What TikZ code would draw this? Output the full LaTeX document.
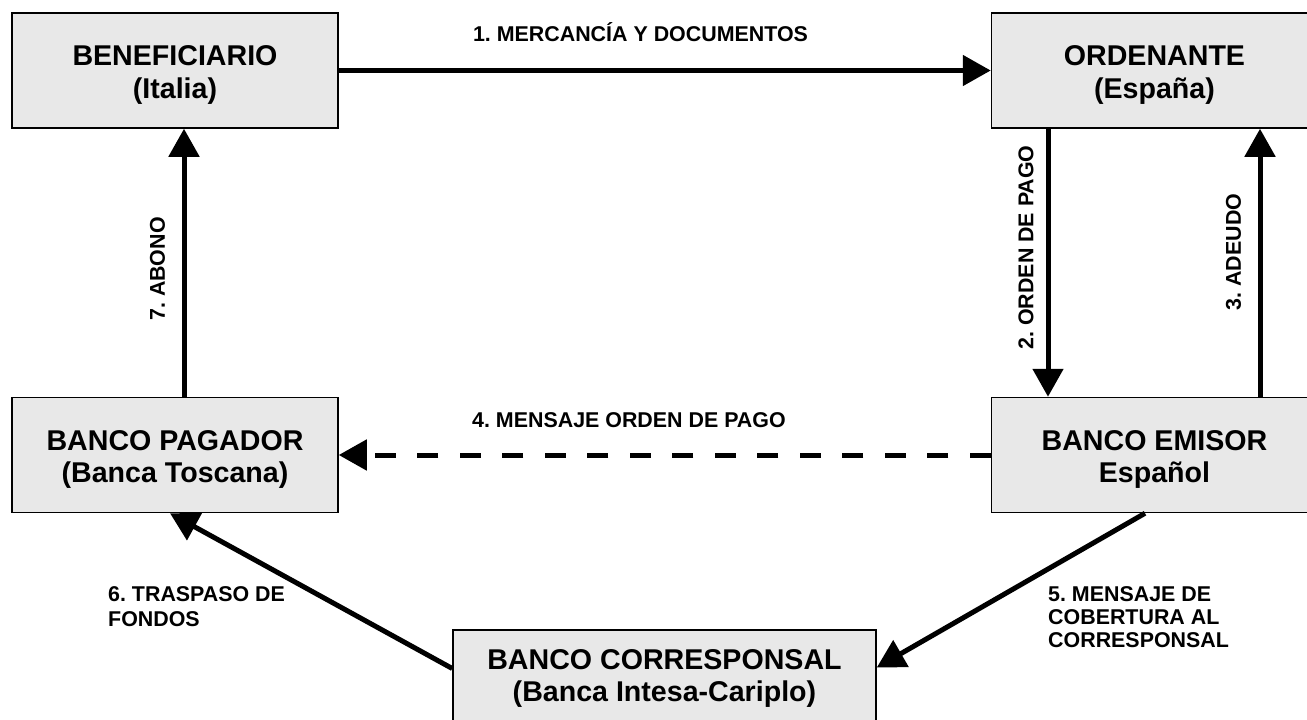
\documentclass[tikz,border=0pt]{standalone}
\usepackage{fontspec}
\setmainfont{Liberation Sans}
\usetikzlibrary{arrows.meta,calc}
\definecolor{boxgray}{RGB}{232,232,232}
\frenchspacing
\begin{document}
\begin{tikzpicture}[x=1pt,y=-1pt,
  box/.style={draw=black,line width=1.5pt,fill=boxgray,minimum width=326pt,
    minimum height=115pt,inner sep=0pt},
  boxtext/.style={inner sep=0pt,align=center,
    font=\fontsize{28.6}{32.5}\selectfont\bfseries},
  flow/.style={line width=5pt,-{Triangle[length=28pt,width=30pt]}},
  lbl/.style={font=\fontsize{21.4}{23.5}\selectfont\bfseries,inner sep=0pt,align=left}]
\useasboundingbox (0,0) rectangle (1307,720);
\begin{scope}
\clip (0,0) rectangle (1307,720);

% parties and banks
\node[box] (ben) at (175,70.5) {};
\node[box] (ord) at (1154.5,70.5) {};
\node[box] (pag) at (175,455) {};
\node[box] (emi) at (1154.5,455) {};
\node[box,minimum width=423pt,minimum height=97pt] (cor) at (664.5,678.5) {};

\node[boxtext] (ben-t) at ($(ben)+(0,4.5)$) {BENEFICIARIO\\(Italia)};
\node[boxtext] (ord-t) at ($(ord)+(0,4.5)$) {ORDENANTE\\(España)};
\node[boxtext] (pag-t) at ($(pag)+(0,4.5)$) {BANCO PAGADOR\\(Banca Toscana)};
\node[boxtext] (emi-t) at ($(emi)+(0,4.5)$) {BANCO EMISOR\\Español};
\node[boxtext] (cor-t) at ($(cor)+(0,0)$) {BANCO CORRESPONSAL\\(Banca Intesa-Cariplo)};

% x positions of the vertical flows
\coordinate (x2) at (1048,0);
\coordinate (x3) at (1260,0);
\coordinate (x7) at (184,0);
\coordinate (x5) at (1145,0);
\coordinate (x6) at (170,0);

% flows
\draw[flow] (ben.east) -- (ord.west);
\draw[flow] (ord.south -| x2) -- (emi.north -| x2);
\draw[flow] (emi.north -| x3) -- (ord.south -| x3);
\draw[flow,dash pattern=on 21pt off 21.5pt] (emi.west) -- (pag.east);
\draw[flow] (emi.south -| x5) -- ($(cor.east)+(0,-11)$);
\draw[flow] ($(cor.west)+(0,-10)$) -- (pag.south -| x6);
\draw[flow] (pag.north -| x7) -- (ben.south -| x7);
\end{scope}

% flow labels
\node[lbl,anchor=base] (l1) at (640.5,41) {1. MERCANCÍA Y DOCUMENTOS};
\node[lbl,rotate=90] (l2) at (1026,247.5) {2. ORDEN DE PAGO};
\node[lbl,rotate=90] (l3) at (1233.5,252) {3. ADEUDO};
\node[lbl,anchor=base west] (l4) at (472,427) {4. MENSAJE ORDEN DE PAGO};
\node[lbl,anchor=north west,font=\fontsize{21.4}{23.3}\selectfont\bfseries] (l5) at (1048,586)
  {5. MENSAJE DE\\COBERTURA AL\\CORRESPONSAL};
\node[lbl,anchor=north west,font=\fontsize{21.4}{25.7}\selectfont\bfseries] (l6) at (108,586)
  {6. TRASPASO DE\\FONDOS};
\node[lbl,rotate=90] (l7) at (157.5,269) {7. ABONO};
\end{tikzpicture}
\end{document}
